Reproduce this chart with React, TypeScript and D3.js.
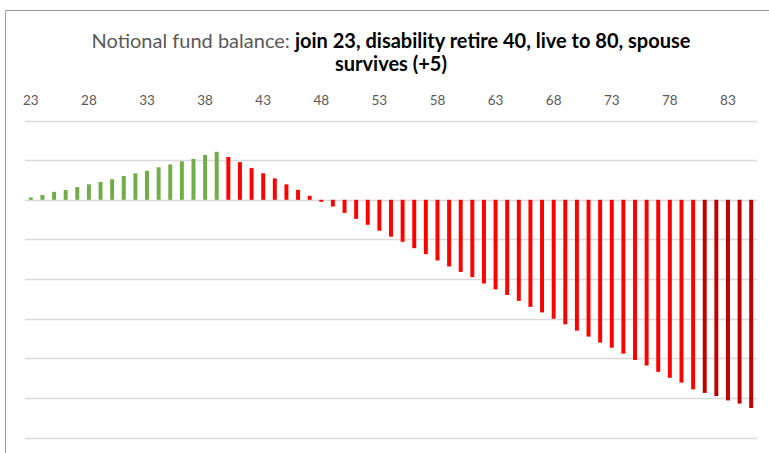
import React from "react";
import * as d3 from "d3";

const ages: number[] = d3.range(23, 86);
const balances: number[] = [
  6, 12, 20, 25, 32, 39, 45, 52, 60, 67, 73, 82, 89, 97, 103, 113, 121,
  108, 95, 80, 67, 54, 39, 25, 10, -5, -17, -33, -48, -63, -78, -93, -106,
  -122, -137, -153, -168, -182, -195, -211, -226, -240, -255, -270, -284,
  -300, -314, -330, -345, -360, -373, -388, -404, -418, -434, -449, -461,
  -478, -487, -495, -506, -514, -525,
];
const phases: string[] = ages.map((a) => (a < 40 ? "work" : a <= 80 ? "retired" : "spouse"));
const tickAges: number[] = [23, 28, 33, 38, 43, 48, 53, 58, 63, 68, 73, 78, 83];
const gridValues: number[] = [200, 100, 0, -100, -200, -300, -400, -500, -600];
const phaseColors: Record<string, string> = { work: "#70AD47", retired: "#FF0000", spouse: "#C00000" };

const W = 769;
const H = 453;
const plot = { left: 25, right: 757, top: 120.5, bottom: 437.7 };
const font = "Lato, 'Open Sans', sans-serif";

export default function App() {
  const x = d3
    .scaleBand<number>()
    .domain(ages)
    .range([plot.left, plot.right])
    .paddingInner(0.66)
    .paddingOuter(0.33);
  const y = d3.scaleLinear().domain([-600, 200]).range([plot.bottom, plot.top]);

  return (
    <svg
      width={W}
      height={H}
      style={{ position: "absolute", left: 0, top: 0, background: "#fff" }}
      fontFamily={font}
    >
      <rect x={0} y={0} width={W} height={H} fill="#fff" />
      <path d={`M5.5,${H} V10.5 H${W}`} fill="none" stroke="#999" strokeWidth={1} />
      {gridValues.map((v) => (
        <line
          key={v}
          x1={plot.left}
          x2={plot.right}
          y1={Math.round(y(v)) + 0.5}
          y2={Math.round(y(v)) + 0.5}
          stroke="#D9D9D9"
          strokeWidth={1.5}
        />
      ))}
      {ages.map((a, i) => {
        const v = balances[i];
        const y0 = y(0);
        const y1 = y(v);
        return (
          <rect
            key={a}
            x={(x(a) as number)}
            width={x.bandwidth()}
            y={Math.min(y0, y1)}
            height={Math.abs(y1 - y0)}
            fill={phaseColors[phases[i]]}
          />
        );
      })}
      {tickAges.map((a) => (
        <text
          key={a}
          x={(x(a) as number) + x.bandwidth() / 2}
          y={105}
          textAnchor="middle"
          fontSize={13.5}
          fill="#595959"
        >
          {a}
        </text>
      ))}
      <text x={391} y={48} textAnchor="middle" fontSize={20}>
        <tspan fill="#595959">Notional fund balance: </tspan>
        <tspan fill="#000" fontWeight="bold">
          join 23, disability retire 40, live to 80, spouse
        </tspan>
      </text>
      <text x={391} y={71} textAnchor="middle" fontSize={20} fill="#000" fontWeight="bold">
        survives (+5)
      </text>
    </svg>
  );
}
